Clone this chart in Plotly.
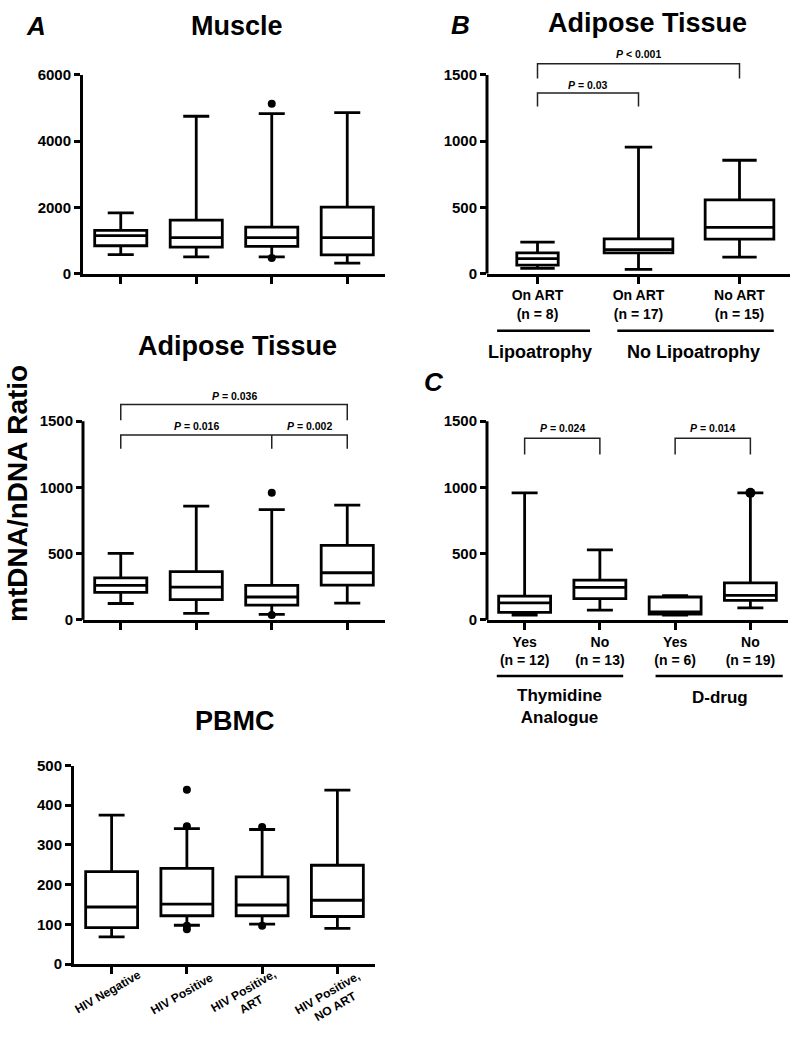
import plotly.graph_objects as go

# The figure fills the whole 793x1046 window (body margin removed after plotting).
W, H = 793, 1046
OFF = 0
FONT = "Liberation Sans, Arial, sans-serif"

# ---------------- data ----------------
cats_hiv = ["HIV Negative", "HIV Positive", "HIV Positive,<br>ART", "HIV Positive,<br>NO ART"]

muscle_q1 = [842, 802, 822, 564]
muscle_med = [1149, 1089, 1089, 1089]
muscle_q3 = [1307, 1614, 1406, 2010]
muscle_lo = [574, 505, 505, 317]
muscle_hi = [1832, 4752, 4832, 4861]
muscle_out_cat = [2, 2]
muscle_out_val = [5129, 475]

adA_q1 = [208, 153, 111, 262]
adA_med = [260, 248, 173, 356]
adA_q3 = [317, 364, 260, 562]
adA_lo = [124, 50, 42, 126]
adA_hi = [502, 859, 832, 866]
adA_out_cat = [2, 2]
adA_out_val = [960, 37]

pbmc_q1 = [92, 122, 122, 120]
pbmc_med = [144, 151, 149, 161]
pbmc_q3 = [233, 241, 220, 249]
pbmc_lo = [69, 98, 101, 90]
pbmc_hi = [375, 341, 339, 438]
pbmc_out_cat = [1, 1, 1, 1, 2, 2]
pbmc_out_val = [439, 347, 88, 97, 345, 97]

cats_B = ["On ART<br>(n = 8)", "On ART<br>(n = 17)", "No ART<br>(n = 15)"]
adB_q1 = [64, 156, 260]
adB_med = [114, 181, 349]
adB_q3 = [156, 262, 557]
adB_lo = [40, 32, 124]
adB_hi = [238, 955, 856]

cats_C = ["Yes<br>(n = 12)", "No<br>(n = 13)", "Yes<br>(n = 6)", "No<br>(n = 19)"]
adC_q1 = [57, 161, 44, 148]
adC_med = [128, 245, 60, 185]
adC_q3 = [180, 301, 173, 279]
adC_lo = [37, 74, 37, 91]
adC_hi = [959, 529, 183, 959]
adC_out_cat = [3]
adC_out_val = [959]

# ---------------- helpers ----------------
def px(p):
    return min(1.0, max(0.0, (p - OFF) / W))

def py(p):
    return min(1.0, max(0.0, 1 - (p - OFF) / H))

fig = go.Figure()


def add_boxes(n, cats, q1, med, q3, lo, hi, widths=None, whisk=None):
    ax = "" if n == 1 else str(n)
    for i, c in enumerate(cats):
        fig.add_trace(go.Box(
            x=[c], q1=[q1[i]], median=[med[i]], q3=[q3[i]],
            lowerfence=[lo[i]], upperfence=[hi[i]],
            width=(widths[i] if widths else 0.69),
            whiskerwidth=(whisk[i] if whisk else 0.5),
            boxpoints=False,
            line=dict(color="black", width=2.8),
            fillcolor="rgba(0,0,0,0)",
            xaxis="x" + ax, yaxis="y" + ax,
            showlegend=False, hoverinfo="skip",
        ))


def add_outliers(n, cats, idx, vals, size=8):
    ax = "" if n == 1 else str(n)
    fig.add_trace(go.Scatter(
        x=[cats[i] for i in idx], y=vals, mode="markers",
        marker=dict(color="black", size=size),
        xaxis="x" + ax, yaxis="y" + ax,
        showlegend=False, hoverinfo="skip", cliponaxis=False,
    ))


add_boxes(1, cats_hiv, muscle_q1, muscle_med, muscle_q3, muscle_lo, muscle_hi)
add_outliers(1, cats_hiv, muscle_out_cat, muscle_out_val)

add_boxes(2, cats_hiv, adA_q1, adA_med, adA_q3, adA_lo, adA_hi)
add_outliers(2, cats_hiv, adA_out_cat, adA_out_val)

add_boxes(3, cats_hiv, pbmc_q1, pbmc_med, pbmc_q3, pbmc_lo, pbmc_hi)
add_outliers(3, cats_hiv, pbmc_out_cat, pbmc_out_val)

add_boxes(4, cats_B, adB_q1, adB_med, adB_q3, adB_lo, adB_hi,
          widths=[0.41, 0.68, 0.68], whisk=[0.83, 0.4, 0.5])

add_boxes(5, cats_C, adC_q1, adC_med, adC_q3, adC_lo, adC_hi)
add_outliers(5, cats_C, adC_out_cat, adC_out_val, size=10)

# ---------------- axes ----------------
tickfont_y = dict(family=FONT, size=15, color="black", weight="bold")
tickfont_x = dict(family=FONT, size=14, color="black", weight="bold")


def xaxis(dom_px, cats, anchor, showlabels):
    return dict(
        domain=[px(dom_px[0]), px(dom_px[1])], anchor=anchor,
        type="category", categoryorder="array", categoryarray=cats,
        range=[-0.5, len(cats) - 0.5],
        showline=True, linewidth=3, linecolor="black",
        ticks="outside", ticklen=7, tickwidth=3, tickcolor="black",
        showgrid=False, zeroline=False, showticklabels=showlabels,
        tickfont=tickfont_x, fixedrange=True,
    )


def yaxis(dom_px, rng, tickvals, anchor, showline):
    return dict(
        domain=[py(dom_px[1]), py(dom_px[0])], anchor=anchor,
        range=rng, tickmode="array", tickvals=tickvals,
        showline=showline, linewidth=3, linecolor="black",
        ticks="outside", ticklen=6, tickwidth=3, tickcolor="black",
        showgrid=False, zeroline=False, tickfont=tickfont_y, fixedrange=True,
    )


TOP = 1760
fig.update_layout(
    xaxis=xaxis((83, 385), cats_hiv, "y", False),
    yaxis=yaxis((67, 269), [0, 6000], [0, 2000, 4000, 6000], "x", True),
    xaxis2=xaxis((83, 385), cats_hiv, "y2", False),
    yaxis2=yaxis((384, 621), [0, TOP], [0, 500, 1000, 1500], "x2", False),
    xaxis3=xaxis((74, 375), cats_hiv, "y3", False),
    yaxis3=yaxis((769, 971), [0, 500], [0, 100, 200, 300, 400, 500], "x3", True),
    xaxis4=xaxis((487, 790), cats_B, "y4", True),
    yaxis4=yaxis((32, 269), [0, TOP], [0, 500, 1000, 1500], "x4", False),
    xaxis5=xaxis((487, 788), cats_C, "y5", True),
    yaxis5=yaxis((384, 621), [0, TOP], [0, 500, 1000, 1500], "x5", False),
)

shapes = []
annotations = []
LINE = dict(color="black", width=3)
BR = dict(color="#222222", width=1.5)

# y axis lines ending at 1500 for the panels that have brackets above
for n in (2, 4, 5):
    shapes.append(dict(type="line", xref=f"x{n} domain", yref=f"y{n}",
                       x0=0, x1=0, y0=0, y1=1500, line=LINE, layer="above"))


def bracket(n, legs, ytop, ybot):
    pts = [f"M{legs[0]},{ybot}", f"L{legs[0]},{ytop}", f"L{legs[-1]},{ytop}", f"L{legs[-1]},{ybot}"]
    shapes.append(dict(type="path", xref=f"x{n}", yref=f"y{n}", path=" ".join(pts), line=BR))
    for m in legs[1:-1]:
        shapes.append(dict(type="line", xref=f"x{n}", yref=f"y{n}", x0=m, x1=m, y0=ytop, y1=ybot, line=BR))


def ptext(n, x, y, txt):
    annotations.append(dict(xref=f"x{n}", yref=f"y{n}", x=x, y=y, text=txt, showarrow=False,
                            font=dict(family=FONT, size=10.5, color="black", weight="bold"),
                            xanchor="center", yanchor="middle"))


# Panel A adipose brackets
bracket(2, [0, 3], 1626, 1507)
bracket(2, [0, 2, 3], 1396, 1292)
ptext(2, 1.5, 1693, "<i>P</i> = 0.036")
ptext(2, 1.0, 1463, "<i>P</i> = 0.016")
ptext(2, 2.5, 1463, "<i>P</i> = 0.002")

# Panel B brackets
bracket(4, [0, 2], 1584, 1473)
bracket(4, [0, 1], 1364, 1262)
ptext(4, 1.0, 1658, "<i>P</i> &lt; 0.001")
ptext(4, 0.5, 1426, "<i>P</i> = 0.03")

# Panel C brackets
bracket(5, [0, 1], 1371, 1248)
bracket(5, [2, 3], 1371, 1248)
ptext(5, 0.5, 1446, "<i>P</i> = 0.024")
ptext(5, 2.5, 1446, "<i>P</i> = 0.014")

# group lines under B and C
for (a, b) in [(-0.40, 0.52), (0.79, 2.34)]:
    shapes.append(dict(type="line", xref="x4", yref="paper", x0=a, x1=b, y0=py(327), y1=py(327), line=dict(color="black", width=2.5)))
for (a, b) in [(-0.37, 1.31), (1.74, 3.43)]:
    shapes.append(dict(type="line", xref="x5", yref="paper", x0=a, x1=b, y0=py(678), y1=py(678), line=dict(color="black", width=2.5)))


def label(xref, x, ypx, txt, size, italic=False, angle=0, xshift=0):
    annotations.append(dict(xref=xref, yref="paper", x=x, y=py(ypx), text=txt, showarrow=False,
                            textangle=angle, xshift=xshift,
                            font=dict(family=FONT, size=size, color="black", weight="bold",
                                      style=("italic" if italic else "normal")),
                            xanchor="center", yanchor="middle"))


label("x4", 0.025, 349, "Lipoatrophy", 18)
label("x4", 1.54, 349, "No Lipoatrophy", 18)
label("x5", 0.47, 709, "Thymidine<br>Analogue", 17)
label("x5", 2.59, 700, "D-drug", 17)

# PBMC rotated category labels
pb_y = [999, 1001, 1005, 1007]
pb_shift = [-4, -5, -15, -6]
for i, c in enumerate(cats_hiv):
    label("x3", i, pb_y[i], c, 12, angle=-30, xshift=pb_shift[i])

# titles
label("paper", px(237), 17, "Muscle", 27)
label("paper", px(237), 343, "Adipose Tissue", 27)
label("paper", px(235), 724, "PBMC", 27)
label("paper", px(647), 14, "Adipose Tissue", 27)

# panel letters
label("paper", px(36), 17, "A", 26, italic=True)
label("paper", px(460), 16, "B", 26, italic=True)
label("paper", px(434), 379, "C", 26, italic=True)

# shared y title
label("paper", px(18), 493, "mtDNA/nDNA Ratio", 28, angle=-90)

fig.update_layout(
    width=W, height=H, autosize=False,
    margin=dict(l=0, r=0, t=0, b=0),
    paper_bgcolor="white", plot_bgcolor="white",
    boxmode="overlay",
    shapes=shapes, annotations=annotations,
    font=dict(family=FONT, color="black"),
)

fig.write_html("out.html", config={"displayModeBar": False, "staticPlot": True},
               post_script="document.body.style.margin='0px';")
